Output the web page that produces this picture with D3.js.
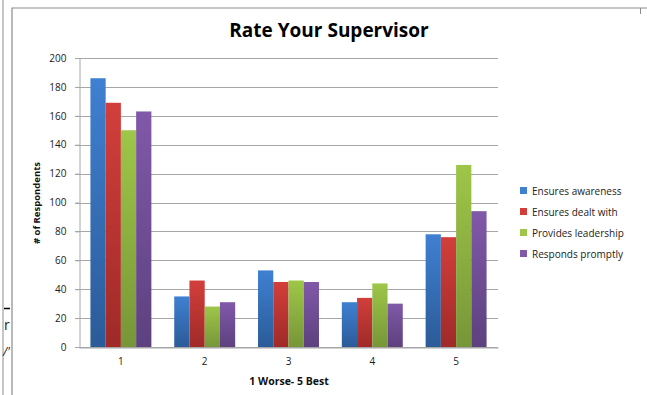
<!DOCTYPE html>
<html lang="en">
<head>
    <meta charset="UTF-8">
    <title>Rate Your Supervisor</title>
    <script src="https://d3js.org/d3.v7.min.js"></script>
    <style>
        body { margin: 0; background: #fff; }
        text { font-family: "Open Sans", "DejaVu Sans", sans-serif; }
    </style>
</head>
<body>
    <svg id="chart" width="647" height="395"></svg>

    <script>
        // data
        const ratings = ["1", "2", "3", "4", "5"];
        const seriesNames = ["Ensures awareness", "Ensures dealt with", "Provides leadership", "Responds promptly"];
        const ensuresAwareness = [186, 35, 53, 31, 78];
        const ensuresDealtWith = [169, 46, 45, 34, 76];
        const providesLeadership = [150, 28, 46, 44, 126];
        const respondsPromptly = [163, 31, 45, 30, 94];
        const yTicks = [0, 20, 40, 60, 80, 100, 120, 140, 160, 180, 200];

        const allSeries = [ensuresAwareness, ensuresDealtWith, providesLeadership, respondsPromptly];
        // top / bottom shade of each bar colour
        const colors = [
            ["#3f80d2", "#2b5b98"],
            ["#d23f3b", "#9f2a28"],
            ["#9ec648", "#779638"],
            ["#8059a9", "#5d417f"]
        ];

        const svg = d3.select("#chart");
        const margin = {left: 79, right: 498, top: 58, bottom: 347};

        // frame lines of the spreadsheet
        svg.append("line").attr("x1", 3).attr("x2", 3).attr("y1", 0).attr("y2", 395)
            .attr("stroke", "#8c8c8c").attr("stroke-width", 1);
        svg.append("path").attr("d", "M12,395V8H647")
            .attr("fill", "none").attr("stroke", "#8c8c8c").attr("stroke-width", 1.2);
        svg.append("line").attr("x1", 640.5).attr("x2", 640.5).attr("y1", 8).attr("y2", 14)
            .attr("stroke", "#8c8c8c").attr("stroke-width", 1);
        svg.append("line").attr("x1", 4).attr("x2", 10).attr("y1", 308.5).attr("y2", 308.5)
            .attr("stroke", "#000").attr("stroke-width", 1.5);
        svg.append("text").attr("x", 4).attr("y", 330).attr("font-size", 14).attr("fill", "#222").text("r");
        svg.append("text").attr("x", 3).attr("y", 356).attr("font-size", 12).attr("font-style", "italic")
            .attr("fill", "#222").text("/'");

        const defs = svg.append("defs");
        colors.forEach((c, i) => {
            const g = defs.append("linearGradient").attr("id", "grad" + i)
                .attr("x1", 0).attr("x2", 0).attr("y1", 0).attr("y2", 1);
            g.append("stop").attr("offset", "0%").attr("stop-color", c[0]);
            g.append("stop").attr("offset", "100%").attr("stop-color", c[1]);
        });

        const x0 = d3.scaleBand().domain(ratings).range([margin.left, margin.right]);
        const x1 = d3.scaleBand().domain(d3.range(seriesNames.length))
            .range([0, x0.bandwidth()]).paddingOuter(0.75);
        const y = d3.scaleLinear().domain([0, 200]).range([margin.bottom, margin.top]);

        // gridlines
        svg.append("g").selectAll("line").data(yTicks).join("line")
            .attr("x1", margin.left - 4).attr("x2", margin.right)
            .attr("y1", d => Math.round(y(d)) + 0.5).attr("y2", d => Math.round(y(d)) + 0.5)
            .attr("stroke", "#a6a6a6").attr("stroke-width", 1);

        // y axis
        const yAxis = svg.append("g").attr("transform", `translate(${margin.left + 0.5},0)`)
            .call(d3.axisLeft(y).tickValues(yTicks).tickSize(4).tickPadding(9));
        yAxis.select(".domain").attr("stroke", "#a6a6a6");
        yAxis.selectAll(".tick line").attr("stroke", "#a6a6a6");
        yAxis.selectAll("text").attr("font-size", 10).attr("fill", "#1a1a1a")
            .attr("font-family", "'Open Sans', sans-serif");

        // bars
        const groups = svg.append("g").selectAll("g").data(ratings).join("g")
            .attr("transform", d => `translate(${x0(d)},0)`);
        groups.selectAll("rect")
            .data((d, gi) => allSeries.map((s, si) => ({si, v: s[gi]})))
            .join("rect")
            .attr("x", d => x1(d.si))
            .attr("width", x1.bandwidth())
            .attr("y", d => y(d.v))
            .attr("height", d => y(0) - y(d.v))
            .attr("fill", d => `url(#grad${d.si})`);

        // x axis
        const xAxis = svg.append("g").attr("transform", `translate(0,${Math.round(y(0)) + 0.5})`)
            .call(d3.axisBottom(x0).tickSize(0).tickPadding(10));
        xAxis.select(".domain").attr("stroke", "#a6a6a6");
        xAxis.selectAll("text").attr("font-size", 10).attr("fill", "#1a1a1a")
            .attr("font-family", "'Open Sans', sans-serif");

        // titles
        svg.append("text").attr("x", 329).attr("y", 37).attr("text-anchor", "middle")
            .attr("font-size", 19).attr("font-weight", "bold").attr("fill", "#000")
            .text("Rate Your Supervisor");
        svg.append("text").attr("x", 289).attr("y", 385).attr("text-anchor", "middle")
            .attr("font-size", 10.5).attr("font-weight", "bold").attr("fill", "#111")
            .text("1 Worse- 5 Best");
        svg.append("text").attr("transform", "translate(40,203) rotate(-90)")
            .attr("text-anchor", "middle").attr("font-size", 9.5).attr("font-weight", "bold")
            .attr("fill", "#111").text("# of Respondents");

        // legend
        const legend = svg.append("g").selectAll("g").data(seriesNames).join("g")
            .attr("transform", (d, i) => `translate(520,${191 + i * 21})`);
        legend.append("rect").attr("x", 0).attr("y", -4).attr("width", 7).attr("height", 7)
            .attr("fill", (d, i) => colors[i][0]);
        legend.append("text").attr("x", 12).attr("y", 3.5).attr("font-size", 10)
            .attr("fill", "#222").text(d => d);
    </script>
</body>
</html>
